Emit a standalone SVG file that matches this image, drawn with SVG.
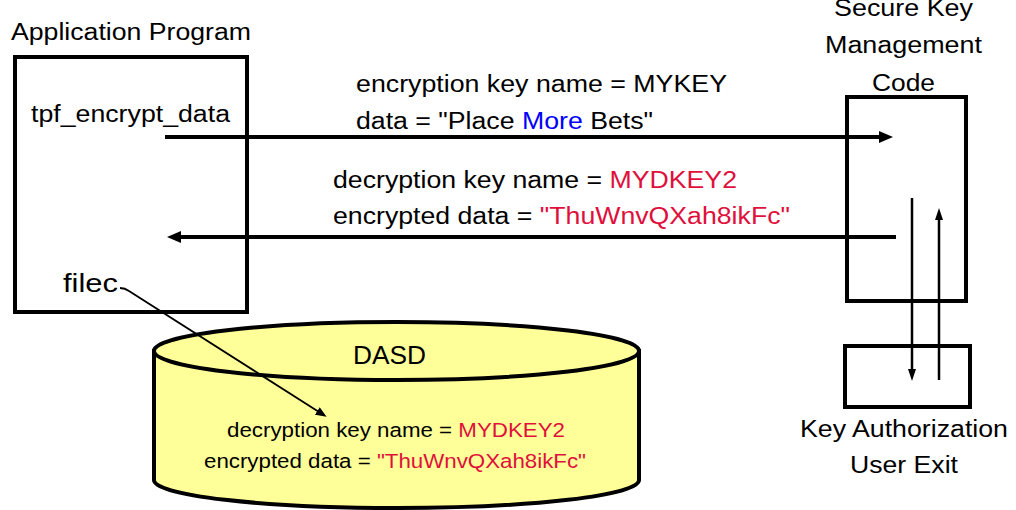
<svg xmlns="http://www.w3.org/2000/svg" width="1016" height="510" viewBox="0 0 1016 510">
  <style>
    text { font-family: "Liberation Sans", Arial, sans-serif; fill: #000; }
    .t23 { font-size: 23px; }
    .t20 { font-size: 20.5px; }
    .red { fill: #e0103c; }
    .blue { fill: #0000ff; }
    .box { fill: #fff; stroke: #000; stroke-width: 4; }
    .flow { fill: none; stroke: #000; stroke-width: 4; }
    .thin { fill: none; stroke: #000; stroke-width: 2.5; }
    .hair { fill: none; stroke: #000; stroke-width: 1.8; }
  </style>
  <defs>
    <marker id="headBig" viewBox="0 0 14 12" markerWidth="14" markerHeight="12" refX="4" refY="6" orient="auto" markerUnits="userSpaceOnUse">
      <path d="M0,0 L14,6 L0,12 z" fill="#000"/>
    </marker>
    <marker id="headSmall" viewBox="0 0 12 8" markerWidth="12" markerHeight="8" refX="3" refY="4" orient="auto" markerUnits="userSpaceOnUse">
      <path d="M0,0 L12,4 L0,8 z" fill="#000"/>
    </marker>
    <marker id="headHair" viewBox="0 0 11 9" markerWidth="11" markerHeight="9" refX="2" refY="4.5" orient="auto" markerUnits="userSpaceOnUse">
      <path d="M0,0 L11,4.5 L0,9 z" fill="#000"/>
    </marker>
  </defs>

  <!-- Application program -->
  <g id="app-program">
    <text class="t23" x="11" y="40" textLength="240" lengthAdjust="spacingAndGlyphs">Application Program</text>
    <rect class="box" x="15" y="57" width="232" height="255"/>
    <text class="t23" x="31" y="122" textLength="199" lengthAdjust="spacingAndGlyphs">tpf_encrypt_data</text>
    <text x="63" y="292" font-size="26" textLength="55" lengthAdjust="spacingAndGlyphs">filec</text>
  </g>

  <!-- DASD cylinder -->
  <g id="dasd">
    <path d="M154,351 L154,480 A242.5,28 0 0 0 639,480 L639,351 z" fill="#ffff99" stroke="#000" stroke-width="4"/>
    <ellipse cx="396.5" cy="351" rx="242.5" ry="29" fill="#ffff99" stroke="#000" stroke-width="4"/>
    <text x="353" y="364" font-size="25" textLength="73" lengthAdjust="spacingAndGlyphs">DASD</text>
    <text class="t20" x="227" y="437" textLength="338" lengthAdjust="spacingAndGlyphs">decryption key name = <tspan class="red">MYDKEY2</tspan></text>
    <text class="t20" x="204" y="468" textLength="382" lengthAdjust="spacingAndGlyphs">encrypted data = <tspan class="red">"ThuWnvQXah8ikFc"</tspan></text>
  </g>

  <!-- Secure key management code -->
  <g id="skm-code">
    <text class="t23" x="834" y="16" textLength="139" lengthAdjust="spacingAndGlyphs">Secure Key</text>
    <text class="t23" x="825" y="53" textLength="157" lengthAdjust="spacingAndGlyphs">Management</text>
    <text class="t23" x="872" y="91" textLength="63" lengthAdjust="spacingAndGlyphs">Code</text>
    <rect class="box" x="847" y="97" width="119" height="204"/>
  </g>

  <!-- Key authorization user exit -->
  <g id="key-auth-exit">
    <rect class="box" x="845" y="346" width="125" height="61"/>
    <text class="t23" x="800" y="437" textLength="208" lengthAdjust="spacingAndGlyphs">Key Authorization</text>
    <text class="t23" x="850" y="473" textLength="108" lengthAdjust="spacingAndGlyphs">User Exit</text>
  </g>

  <!-- Connectors -->
  <g id="connectors">
    <path class="flow" d="M165,137 L883,137" marker-end="url(#headBig)"/>
    <path class="flow" d="M896,237 L177,237" marker-end="url(#headBig)"/>
    <path class="thin" d="M912,198 L912,372" marker-end="url(#headSmall)"/>
    <path class="thin" d="M939,380 L939,217" marker-end="url(#headSmall)"/>
    <path class="hair" d="M120,288 Q125,288 129,291 L319,412" marker-end="url(#headHair)"/>
  </g>

  <!-- Message labels -->
  <g id="labels">
    <text class="t23" x="356" y="92" textLength="371" lengthAdjust="spacingAndGlyphs">encryption key name = MYKEY</text>
    <text class="t23" x="356" y="129" textLength="297" lengthAdjust="spacingAndGlyphs">data = "Place <tspan class="blue">More</tspan> Bets"</text>
    <text class="t23" x="333" y="188" textLength="404" lengthAdjust="spacingAndGlyphs">decryption key name = <tspan class="red">MYDKEY2</tspan></text>
    <text class="t23" x="333" y="224" textLength="457" lengthAdjust="spacingAndGlyphs">encrypted data = <tspan class="red">"ThuWnvQXah8ikFc"</tspan></text>
  </g>
</svg>
